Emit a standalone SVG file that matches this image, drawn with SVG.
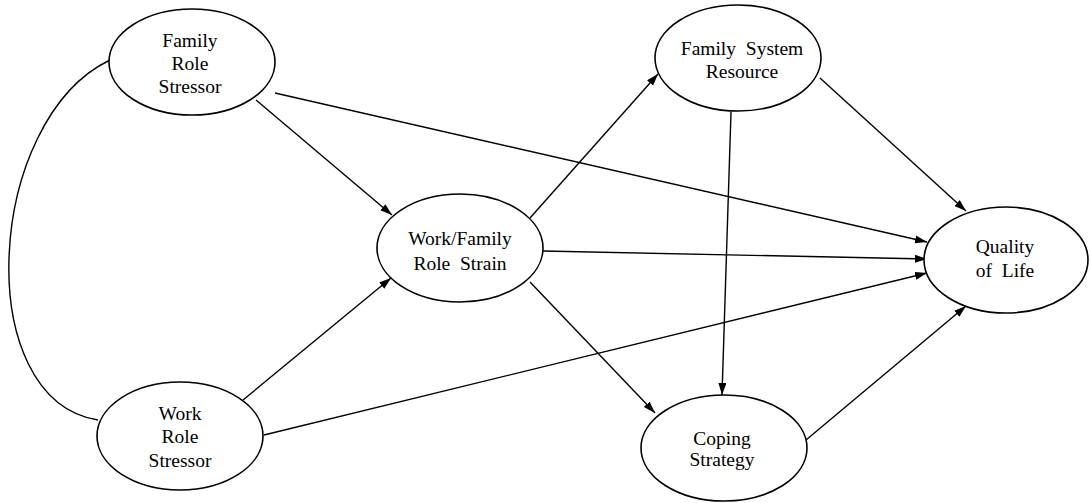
<svg xmlns="http://www.w3.org/2000/svg" width="1090" height="503" viewBox="0 0 1090 503">
<style>
.node ellipse{fill:#fff;stroke:#000;stroke-width:1.6}
.node text{font-family:"Liberation Serif","DejaVu Serif",serif;font-size:19.5px;fill:#000;text-anchor:middle;white-space:pre}
.edge{fill:none;stroke:#000;stroke-width:1.4}
</style>
<defs>
<marker id="arr" markerUnits="userSpaceOnUse" markerWidth="13" markerHeight="9" refX="12" refY="4" orient="auto">
<path d="M0,0 L12,4 L0,8 z" fill="#000"/>
</marker>
</defs>
<rect width="1090" height="503" fill="#fff"/>
<g id="connectors">
<path class="edge" d="M110,60 C-15,120 -30,400 98,420"/>
<line class="edge" x1="275" y1="93" x2="927" y2="242" marker-end="url(#arr)"/>
<line class="edge" x1="256" y1="100" x2="392" y2="215" marker-end="url(#arr)"/>
<line class="edge" x1="243" y1="400" x2="391" y2="278" marker-end="url(#arr)"/>
<line class="edge" x1="264" y1="435" x2="927" y2="273" marker-end="url(#arr)"/>
<line class="edge" x1="530" y1="218" x2="658" y2="74" marker-end="url(#arr)"/>
<line class="edge" x1="543" y1="251" x2="927" y2="259" marker-end="url(#arr)"/>
<line class="edge" x1="530" y1="282" x2="655" y2="413" marker-end="url(#arr)"/>
<line class="edge" x1="731" y1="112" x2="722" y2="395" marker-end="url(#arr)"/>
<line class="edge" x1="820" y1="78" x2="966" y2="211" marker-end="url(#arr)"/>
<line class="edge" x1="806" y1="440" x2="966" y2="306" marker-end="url(#arr)"/>
</g>
<g id="frs" class="node">
<ellipse cx="192" cy="62" rx="83" ry="53"/>
<text x="190" y="47">Family</text>
<text x="190" y="70">Role</text>
<text x="190" y="93">Stressor</text>
</g>
<g id="wrs" class="node">
<ellipse cx="180" cy="436" rx="83" ry="54"/>
<text x="180" y="420">Work</text>
<text x="180" y="443">Role</text>
<text x="180" y="467">Stressor</text>
</g>
<g id="wfrs" class="node">
<ellipse cx="460" cy="248" rx="83" ry="54"/>
<text x="460" y="245">Work/Family</text>
<text x="460" y="270">Role  Strain</text>
</g>
<g id="fsr" class="node">
<ellipse cx="738" cy="58" rx="83" ry="53"/>
<text x="742" y="55">Family  System</text>
<text x="742" y="78">Resource</text>
</g>
<g id="cs" class="node">
<ellipse cx="724" cy="448" rx="83" ry="53"/>
<text x="722" y="445">Coping</text>
<text x="722" y="466">Strategy</text>
</g>
<g id="qol" class="node">
<ellipse cx="1006" cy="260" rx="82" ry="53"/>
<text x="1005" y="253">Quality</text>
<text x="1005" y="277">of  Life</text>
</g>
</svg>
